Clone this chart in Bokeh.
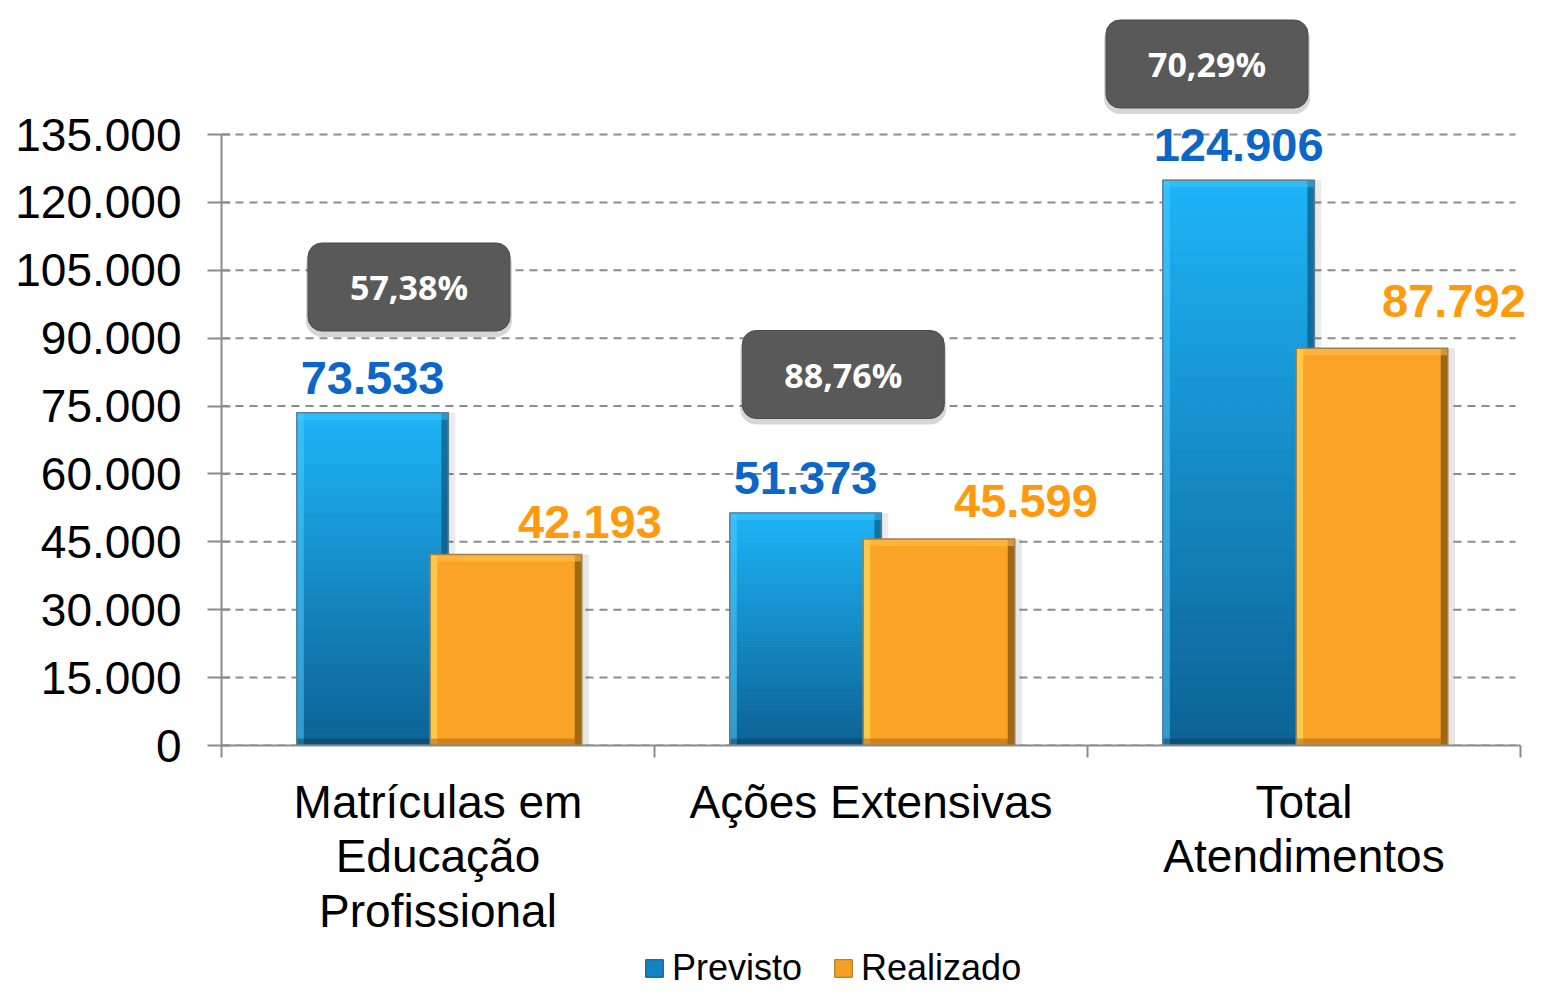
import numpy as np
from bokeh.plotting import figure
from bokeh.layouts import column
from bokeh.models import (ColumnDataSource, Range1d, FixedTicker, Legend, LegendItem, LabelSet,
                          Spacer)
from bokeh.core.properties import value
from bokeh.embed import file_html
from bokeh.resources import INLINE

# ---------------- data ----------------
categories = ["Matrículas em\nEducação\nProfissional", "Ações Extensivas", "Total\nAtendimentos"]
series = ["Previsto", "Realizado"]
previsto = [73533, 51373, 124906]
realizado = [42193, 45599, 87792]
previsto_labels = ["73.533", "51.373", "124.906"]
realizado_labels = ["42.193", "45.599", "87.792"]
pct_labels = ["57,38%", "88,76%", "70,29%"]
y_ticks = [0, 15000, 30000, 45000, 60000, 75000, 90000, 105000, 120000, 135000]
y_tick_labels = ["0", "15.000", "30.000", "45.000", "60.000", "75.000", "90.000",
                 "105.000", "120.000", "135.000"]

# ---------------- layout constants ----------------
W = 1528
TOP_GAP, TOP_LINE = 4, 2
LEG_H = 44
H = 989 - LEG_H - TOP_GAP - TOP_LINE
LEFT = 221
TOP = 10 - TOP_GAP - TOP_LINE
BOTTOM_PX = 745 - TOP_GAP - TOP_LINE
PX_X = 433.0                 # px per category
PX_Y = 611.0 / 135000.0      # px per unit
FRAME_H = BOTTOM_PX - TOP
Y_END = FRAME_H / PX_Y
X_END = (W - LEFT) / PX_X
GRID_END = (1515 - LEFT) / PX_X
BLUE_OFF, ORANGE_OFF, BAR_W = 0.349, 0.657, 0.35
BOX_X_OFF = [0.433, 0.436, 0.276]
BOX_Y_PX = [286.5, 374.0, 63.5]          # pixel centre of the % boxes (page)
BOX_Y = [(745 - v) / PX_Y for v in BOX_Y_PX]
R_LBL_DX = [84, 87, 82]
R_LBL_DY = [17, 22, 31]
B_LBL_DY = 19
LEG_X = 643 - LEFT

FONT = "Liberation Sans"
BLUE_TXT = "#0B66C8"
ORANGE_TXT = "#FF9A0C"
AX = "#8c8c8c"
BLUE_KEY = "#1583C2"
ORANGE_KEY = "#F5A024"

p = figure(width=W, height=H, x_range=Range1d(0, X_END), y_range=Range1d(0, Y_END),
           output_backend="svg", toolbar_location=None,
           min_border_left=LEFT, min_border_right=0, min_border_top=TOP,
           min_border_bottom=H - BOTTOM_PX)
p.outline_line_color = None
p.background_fill_color = "white"
p.border_fill_color = "white"

# ---------------- axes ----------------
xa = p.xaxis[0]
xa.ticker = FixedTicker(ticks=[0.5, 1.5, 2.5], minor_ticks=[0, 1, 2, 3])
xa.major_label_overrides = {i + 0.5: c for i, c in enumerate(categories)}
xa.bounds = (0, 3)
xa.major_tick_out = 0
xa.major_tick_in = 0
xa.minor_tick_out = 12
xa.minor_tick_in = 0
xa.minor_tick_line_color = AX
xa.minor_tick_line_width = 2
xa.axis_line_color = AX
xa.axis_line_width = 2
xa.major_label_text_font = FONT
xa.major_label_text_font_size = "46px"
xa.major_label_text_color = "#000000"
xa.major_label_text_line_height = 1.05
xa.major_label_standoff = 18

ya = p.yaxis[0]
ya.ticker = FixedTicker(ticks=y_ticks, minor_ticks=[])
ya.major_label_overrides = {t: l for t, l in zip(y_ticks, y_tick_labels)}
ya.bounds = (0, y_ticks[-1])
ya.major_tick_out = 14
ya.major_tick_in = 9
ya.major_tick_line_color = AX
ya.major_tick_line_width = 2
ya.axis_line_color = AX
ya.axis_line_width = 2
ya.major_label_text_font = FONT
ya.major_label_text_font_size = "46px"
ya.major_label_text_color = "#000000"
ya.major_label_standoff = 26

p.xgrid.visible = False
p.ygrid.visible = False
# dashed horizontal gridlines at the y ticks
p.segment(x0=[0] * len(y_ticks), x1=[GRID_END] * len(y_ticks), y0=y_ticks, y1=y_ticks,
          line_color=AX, line_width=2, line_dash="8 6")


# ---------------- helpers ----------------
def hex2rgb(h):
    h = h.lstrip("#")
    return np.array([int(h[i:i + 2], 16) for i in (0, 2, 4)], dtype=float)


def lerp(c1, c2, t):
    a, b = hex2rgb(c1), hex2rgb(c2)
    c = a + (b - a) * t
    return "#%02x%02x%02x" % tuple(int(round(v)) for v in c)


blue_x = [i + BLUE_OFF for i in range(len(categories))]
orange_x = [i + ORANGE_OFF for i in range(len(categories))]
EDGE_X = 7 / PX_X
EDGE_Y = 7 / PX_Y
SH_DX = 7 / PX_X

# shadows
p.vbar(x=[x + SH_DX for x in blue_x], top=previsto, width=BAR_W, fill_color="#000000",
       fill_alpha=0.08, line_color=None)
p.vbar(x=[x + SH_DX for x in orange_x], top=realizado, width=BAR_W, fill_color="#000000",
       fill_alpha=0.10, line_color=None)

# blue bars with vertical gradient (slices of each bar)
N = 40
sx, sb, st, sc = [], [], [], []
for x, v in zip(blue_x, previsto):
    for k in range(N):
        sx.append(x)
        sb.append(v * k / N)
        st.append(v * (k + 1) / N)
        sc.append(lerp("#0D6294", "#1EB4F7", (k + 0.5) / N))
blue_src = ColumnDataSource(dict(x=sx, bottom=sb, top=st, color=sc))
p.vbar(x="x", bottom="bottom", top="top", width=BAR_W, source=blue_src,
       fill_color="color", line_color="color", line_width=1)
# bevel edges blue
p.vbar(x=[x - BAR_W / 2 + EDGE_X / 2 for x in blue_x], top=previsto, width=EDGE_X,
       fill_color="#4CCBFF", fill_alpha=0.55, line_color=None)
p.vbar(x=[x + BAR_W / 2 - EDGE_X / 2 for x in blue_x], top=previsto, width=EDGE_X,
       fill_color="#073F62", fill_alpha=0.55, line_color=None)
p.vbar(x=blue_x, top=previsto, bottom=[v - EDGE_Y for v in previsto], width=BAR_W,
       fill_color="#45C8FF", fill_alpha=0.45, line_color=None)
p.vbar(x=blue_x, top=[EDGE_Y] * len(previsto), width=BAR_W,
       fill_color="#063A5C", fill_alpha=0.45, line_color=None)
p.vbar(x=blue_x, top=previsto, width=BAR_W, fill_color=None, line_color="#5d7f96",
       line_width=1.5)

# orange bars
p.vbar(x=orange_x, top=realizado, width=BAR_W, fill_color="#FBA326", line_color=None)
p.vbar(x=[x - BAR_W / 2 + EDGE_X / 2 for x in orange_x], top=realizado, width=EDGE_X,
       fill_color="#FFD655", fill_alpha=0.75, line_color=None)
p.vbar(x=[x + BAR_W / 2 - EDGE_X / 2 for x in orange_x], top=realizado, width=EDGE_X,
       fill_color="#6E4608", fill_alpha=0.65, line_color=None)
p.vbar(x=orange_x, top=realizado, bottom=[v - EDGE_Y for v in realizado], width=BAR_W,
       fill_color="#FFC24E", fill_alpha=0.55, line_color=None)
p.vbar(x=orange_x, top=[EDGE_Y] * len(realizado), width=BAR_W,
       fill_color="#A8690C", fill_alpha=0.55, line_color=None)
p.vbar(x=orange_x, top=realizado, width=BAR_W, fill_color=None, line_color="#a08050",
       line_width=1.5)

# value labels
bl_src = ColumnDataSource(dict(x=blue_x, y=previsto, t=previsto_labels))
p.add_layout(LabelSet(x="x", y="y", text="t", source=bl_src, y_offset=B_LBL_DY,
                      text_align="center", text_baseline="alphabetic",
                      text_font=value(FONT), text_font_style="bold",
                      text_font_size="47px", text_color=BLUE_TXT))
ol_src = ColumnDataSource(dict(x=[x + dx / PX_X for x, dx in zip(orange_x, R_LBL_DX)],
                               y=[v + dy / PX_Y for v, dy in zip(realizado, R_LBL_DY)],
                               t=realizado_labels))
p.add_layout(LabelSet(x="x", y="y", text="t", source=ol_src,
                      text_align="center", text_baseline="alphabetic",
                      text_font=value(FONT), text_font_style="bold",
                      text_font_size="47px", text_color=ORANGE_TXT))

# percentage boxes
box_x = [i + o for i, o in enumerate(BOX_X_OFF)]
p.rect(x=box_x, y=[y - 5 / PX_Y for y in BOX_Y], width=206, height=90,
       width_units="screen", height_units="screen", fill_color="#000000",
       fill_alpha=0.16, line_color=None, border_radius=16)
p.rect(x=box_x, y=BOX_Y, width=202, height=88, width_units="screen",
       height_units="screen", fill_color="#595959", line_color="#4a4a4a",
       line_width=1, border_radius=14)
p.text(x=box_x, y=BOX_Y, text=pct_labels, text_align="center", text_baseline="middle",
       text_font=value("Open Sans"), text_font_style="bold", text_font_size="34px",
       text_color="white")

# ---------------- thin gray rule at the very top ----------------
rule = figure(width=W, height=TOP_LINE, output_backend="svg", toolbar_location=None,
              min_border=0, x_range=Range1d(0, 1), y_range=Range1d(0, 1))
rule.axis.visible = False
rule.grid.visible = False
rule.outline_line_color = None
rule.background_fill_color = "#969696"
rule.border_fill_color = "#969696"

# ---------------- legend strip ----------------
pl = figure(width=W, height=LEG_H, x_range=Range1d(0, 1), y_range=Range1d(0, 1),
            output_backend="svg", toolbar_location=None, min_border=0)
pl.axis.visible = False
pl.grid.visible = False
pl.outline_line_color = None
pl.background_fill_color = "white"
pl.border_fill_color = "white"
# legend-key renderers: one row each, with no drawable position (NaN)
r_prev = pl.vbar(x=[np.nan], top=[np.nan], width=0.1, fill_color=BLUE_KEY,
                 line_color="#0b4f78", line_width=1)
r_real = pl.vbar(x=[np.nan], top=[np.nan], width=0.1, fill_color=ORANGE_KEY,
                 line_color="#a86a10", line_width=1)
legend = Legend(items=[LegendItem(label=series[0], renderers=[r_prev], index=0),
                       LegendItem(label=series[1], renderers=[r_real], index=0)],
                location=(LEG_X, 0), orientation="horizontal",
                glyph_width=22, glyph_height=22, label_standoff=7, spacing=30,
                padding=0, margin=0, border_line_color=None, background_fill_alpha=0,
                label_text_font=FONT, label_text_font_size="36px",
                label_text_color="#000000")
pl.add_layout(legend, "center")

layout = column(Spacer(width=W, height=TOP_GAP), rule, p, pl, spacing=0)
open("out.html", "w").write(file_html(layout, INLINE))
